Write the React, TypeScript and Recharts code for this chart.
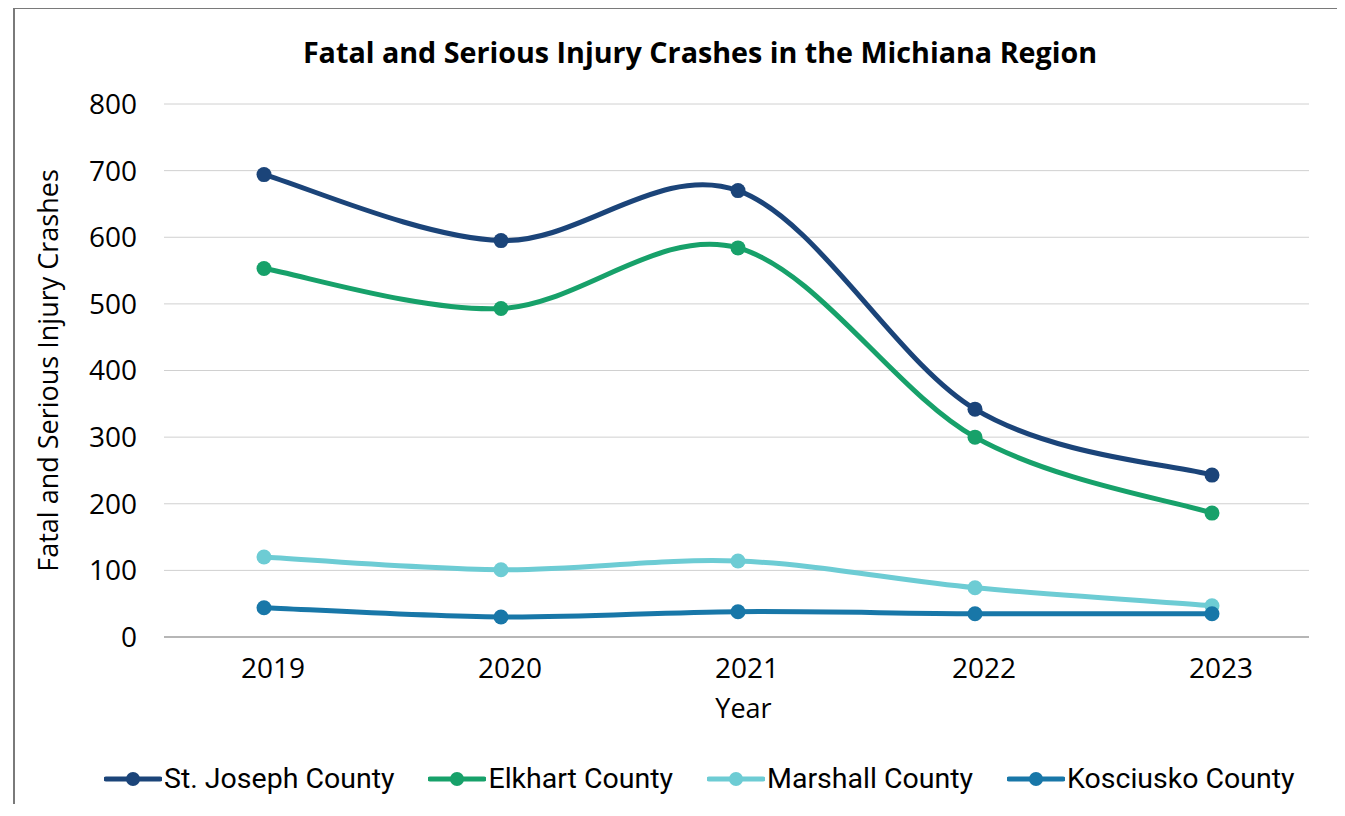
import React from "react";
import {
  LineChart,
  Line,
  XAxis,
  YAxis,
  CartesianGrid,
} from "recharts";

const years = ["2019", "2020", "2021", "2022", "2023"];
const stJoseph = [694, 595, 670, 342, 243];
const elkhart = [553, 493, 584, 300, 186];
const marshall = [120, 101, 114, 74, 47];
const kosciusko = [44, 30, 38, 35, 35];
const yTicks = [0, 100, 200, 300, 400, 500, 600, 700, 800];

const seriesList = [
  { key: "stJoseph", name: "St. Joseph County", color: "#1b4479", values: stJoseph },
  { key: "elkhart", name: "Elkhart County", color: "#17a16a", values: elkhart },
  { key: "marshall", name: "Marshall County", color: "#6dccd4", values: marshall },
  { key: "kosciusko", name: "Kosciusko County", color: "#1877a8", values: kosciusko },
];

const rows = years.map((year, i) => {
  const row: Record<string, string | number> = { year };
  seriesList.forEach((s) => {
    row[s.key] = s.values[i];
  });
  return row;
});

// smooth line like the office charts (catmull-rom, 1/6 handles)
const smoothCurve = (context: any) => {
  let pts: number[][] = [];
  return {
    areaStart() {},
    areaEnd() {},
    lineStart() {
      pts = [];
    },
    point(x: number, y: number) {
      pts.push([+x, +y]);
    },
    lineEnd() {
      if (!pts.length) return;
      context.moveTo(pts[0][0], pts[0][1]);
      for (let i = 0; i < pts.length - 1; i++) {
        const p0 = pts[i - 1] || pts[i];
        const p1 = pts[i];
        const p2 = pts[i + 1];
        const p3 = pts[i + 2] || p2;
        context.bezierCurveTo(
          p1[0] + (p2[0] - p0[0]) / 6,
          p1[1] + (p2[1] - p0[1]) / 6,
          p2[0] - (p3[0] - p1[0]) / 6,
          p2[1] - (p3[1] - p1[1]) / 6,
          p2[0],
          p2[1]
        );
      }
    },
  };
};

const FONT = "'Open Sans', sans-serif";

export default function App() {
  return (
    <div
      style={{
        position: "relative",
        width: 1322,
        height: 815,
        overflow: "hidden",
        marginLeft: 5,
        marginTop: -1,
        marginBottom: -20,
        borderLeft: "2px solid #7a7a7a",
        borderTop: "2px solid #7a7a7a",
        fontFamily: FONT,
        color: "#000",
      }}
    >
      <div
        style={{
          position: "absolute",
          top: 28,
          left: 0,
          width: 1370,
          textAlign: "center",
          fontFamily: FONT,
          fontWeight: 700,
          fontSize: 28.7,
          lineHeight: "30px",
          whiteSpace: "nowrap",
        }}
      >
        Fatal and Serious Injury Crashes in the Michiana Region
      </div>
      <div style={{ position: "absolute", top: 0, left: 0 }}>
        <LineChart
          width={1322}
          height={720}
          data={rows}
          margin={{ top: 95, right: 28, left: 0, bottom: 0 }}
        >
          <CartesianGrid vertical={false} stroke="#d0d0d0" strokeWidth={1} />
          <XAxis
            dataKey="year"
            scale="point"
            padding={{ left: 100, right: 97 }}
            height={92}
            tickLine={false}
            axisLine={{ stroke: "#a6a6a6", strokeWidth: 1.5 }}
            tickMargin={15}
            tick={{ fill: "#000", fontSize: 28, fontFamily: FONT, dx: 9 }}
            label={{
              value: "Year",
              position: "insideTop",
              offset: 62,
              dx: 7,
              fill: "#000",
              fontSize: 27,
              fontFamily: FONT,
            }}
          />
          <YAxis
            width={149}
            domain={[0, 800]}
            ticks={yTicks}
            axisLine={false}
            tickLine={false}
            tickMargin={21}
            tick={{ fill: "#000", fontSize: 28, fontFamily: FONT }}
            label={{
              value: "Fatal and Serious Injury Crashes",
              angle: -90,
              position: "center",
              dx: -41,
              fill: "#000",
              fontSize: 27,
              fontFamily: FONT,
            }}
          />
          {seriesList.map((s) => (
            <Line
              key={s.key}
              dataKey={s.key}
              name={s.name}
              type={smoothCurve as any}
              stroke={s.color}
              strokeWidth={5}
              dot={{ r: 7.5, fill: s.color, stroke: s.color, strokeWidth: 0 }}
              isAnimationActive={false}
            />
          ))}
        </LineChart>
      </div>
      <div
        style={{
          position: "absolute",
          top: 753,
          left: 89,
          display: "flex",
          alignItems: "center",
          gap: 34,
          fontFamily: "Roboto, sans-serif",
          fontSize: 28.5,
          whiteSpace: "nowrap",
        }}
      >
        {seriesList.map((s) => (
          <div key={s.key} style={{ display: "flex", alignItems: "center" }}>
            <svg width={58} height={20} style={{ marginRight: 2 }}>
              <line x1={2} y1={10} x2={56} y2={10} stroke={s.color} strokeWidth={5} strokeLinecap="round" />
              <circle cx={29} cy={10} r={7} fill={s.color} />
            </svg>
            <span>{s.name}</span>
          </div>
        ))}
      </div>
    </div>
  );
}
